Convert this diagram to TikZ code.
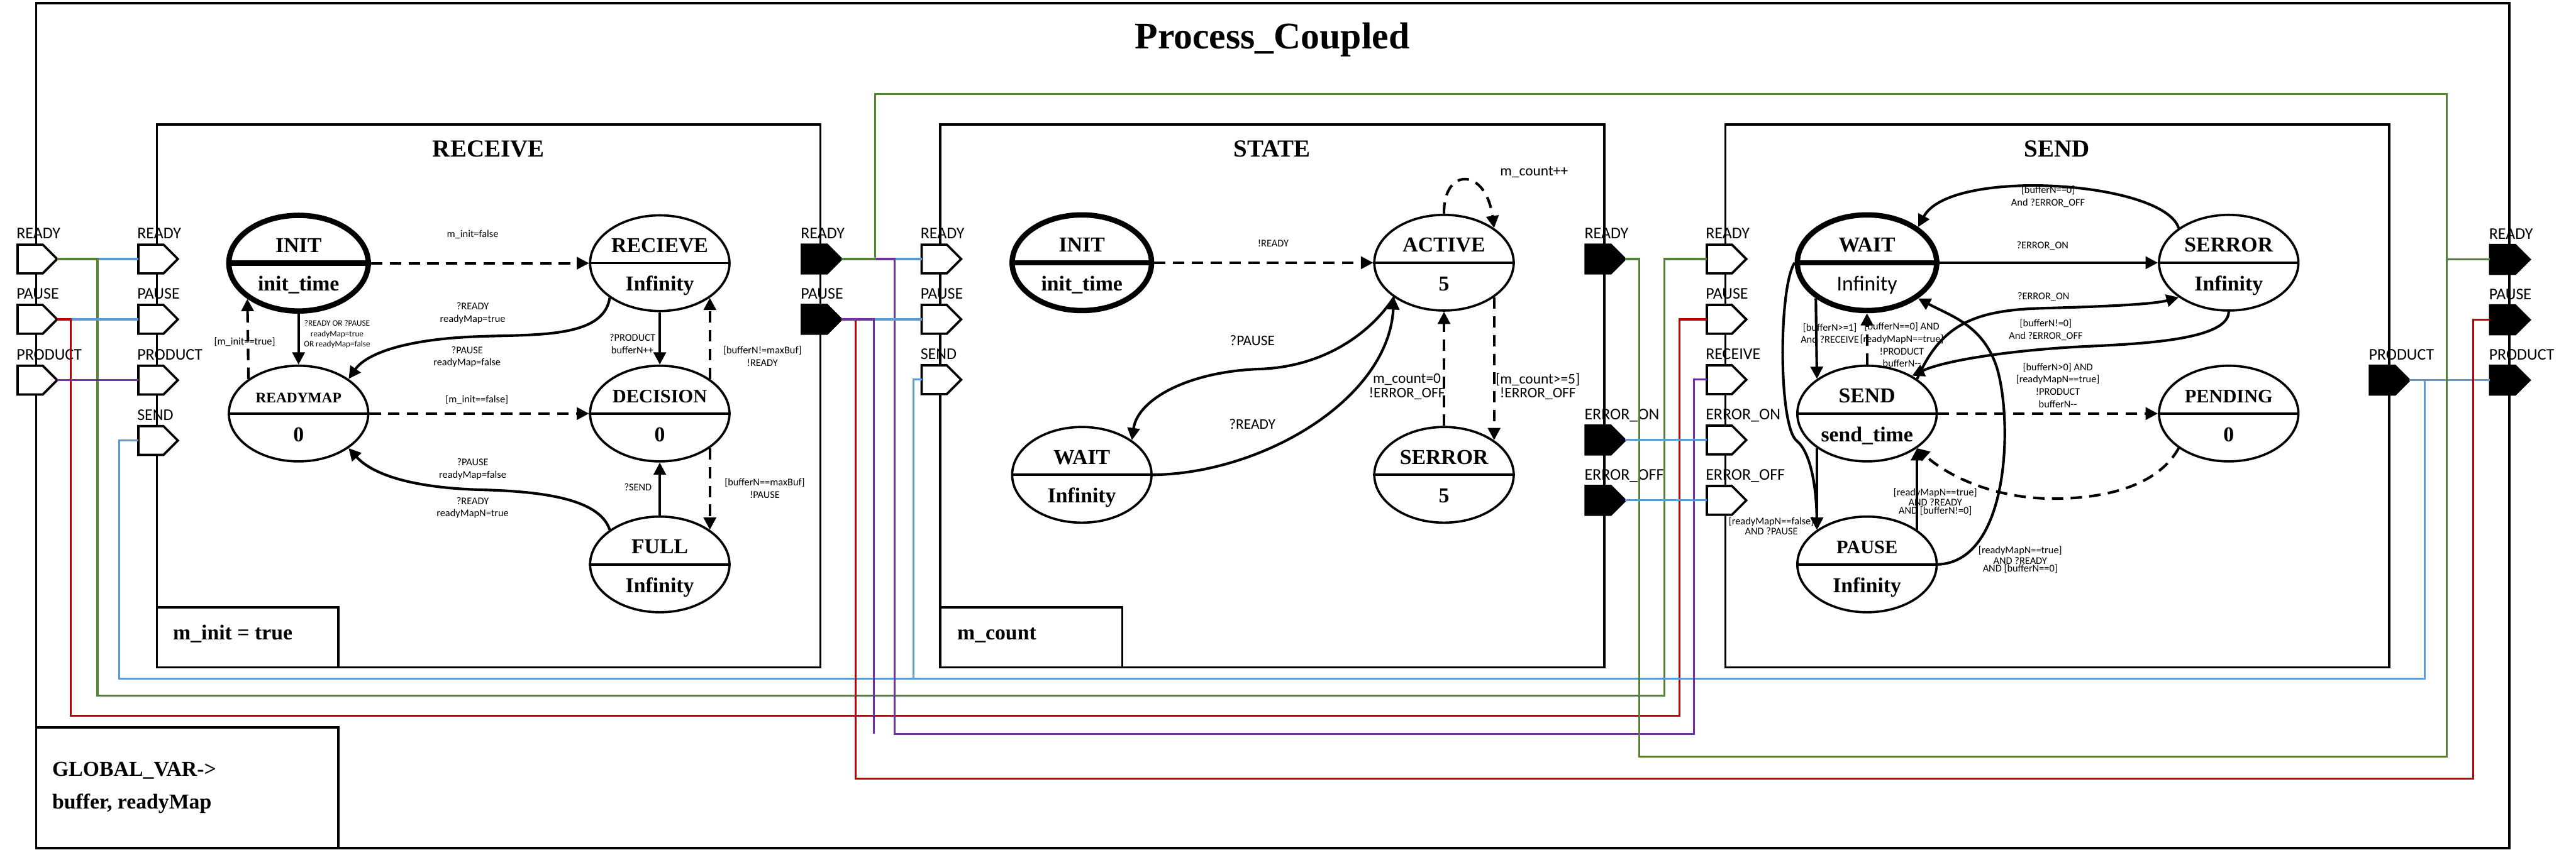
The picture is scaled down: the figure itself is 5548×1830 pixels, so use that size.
\documentclass[tikz,border=0pt]{standalone}
\usepackage{fontspec}
\setmainfont{Liberation Serif}
\newfontfamily\lblfont{Carlito}
\usetikzlibrary{shapes.geometric,shapes.symbols,arrows.meta}

\definecolor{wgreen}{HTML}{548235}
\definecolor{wblue}{HTML}{5B9BD5}
\definecolor{wred}{HTML}{C00000}
\definecolor{wpurple}{HTML}{7030A0}

% state: ellipse cut in two, name on top, time below
\newcommand{\stnode}[5][]{%
  \node[stnode,#1] (#2) at (#3) {};
  \draw[stline,#1] (#2.west) -- (#2.east);
  \node[sttxt] (#2n) at ([yshift=0.23cm]#2.center) {#4};
  \node[sttxt] (#2v) at ([yshift=-0.6cm]#2.center) {#5};
}

\begin{document}
\begin{tikzpicture}[x=0.01cm, y=-0.01cm,
  box/.style={line width=1.4pt},
  stnode/.style={draw, ellipse, minimum width=3cm, minimum height=2.06cm, inner sep=0pt, line width=1.4pt},
  stline/.style={line width=1.4pt},
  initst/.style={line width=3.3pt},
  sttxt/.style={font=\fontsize{13}{15}\selectfont\bfseries, inner sep=0pt, anchor=base},
  tr/.style={line width=1.6pt, -{Triangle[length=7.5pt,width=7.5pt]}},
  dtr/.style={tr, dash pattern=on 7pt off 4.5pt},
  lbl/.style={font=\lblfont\fontsize{6.3}{7.6}\selectfont, align=center, inner sep=0pt},
  lbls/.style={font=\lblfont\fontsize{5.1}{6.3}\selectfont, align=center, inner sep=0pt},
  lblt/.style={font=\lblfont\fontsize{6.3}{4.7}\selectfont, align=center, inner sep=0pt},
  lblb/.style={font=\lblfont\fontsize{9}{8.5}\selectfont, align=center, inner sep=0pt},
  portin/.style={signal, signal to=east, draw, line width=1.4pt, fill=white, minimum width=0.85cm, minimum height=0.62cm, inner sep=0pt, outer sep=0pt, anchor=west},
  portout/.style={portin, fill=black},
  plbl/.style={font=\lblfont\fontsize{10}{12}\selectfont, inner sep=0pt, anchor=base west, yshift=0.44cm, xshift=-0.03cm},
  btitle/.style={font=\fontsize{15}{18}\selectfont\bfseries, anchor=base},
  vtext/.style={font=\fontsize{13}{15}\selectfont\bfseries, anchor=base west, inner sep=0pt},
  gw/.style={draw=wgreen, line width=1.2pt},
  bw/.style={draw=wblue, line width=1.2pt},
  rw/.style={draw=wred, line width=1.2pt},
  pw/.style={draw=wpurple, line width=1.2pt}]

  \useasboundingbox (0,0) rectangle (5548,1830);

  % boxes
  \draw[box] (78,7) rectangle (5404,1827);
  \node[font=\fontsize{23}{27}\selectfont\bfseries, anchor=base] (tMain) at (2740,105) {Process\_Coupled};
  \draw[box] (78,1567) rectangle (729,1827);
  \node[vtext] (vGlob1) at (112,1672) {GLOBAL\_VAR->};
  \node[vtext] (vGlob2) at (112,1743) {buffer, readyMap};

  \draw[box] (338,268) rectangle (1767,1438);
  \draw[box] (338,1308) rectangle (729,1438);
  \node[btitle] (tRecv) at (1052,338) {RECEIVE};
  \node[vtext] (vInit) at (372,1378) {m\_init = true};

  \draw[box] (2025,268) rectangle (3455,1438);
  \draw[box] (2025,1308) rectangle (2417,1438);
  \node[btitle] (tState) at (2740,338) {STATE};
  \node[vtext] (vCount) at (2061,1378) {m\_count};

  \draw[box] (3716,268) rectangle (5146,1438);
  \node[btitle] (tSend) at (4430,338) {SEND};

  % ports
  \node[portin, label={[plbl]left:READY}] (oReady) at (38,558) {};
  \node[portin, label={[plbl]left:PAUSE}] (oPause) at (38,688) {};
  \node[portin, label={[plbl]left:PRODUCT}] (oProduct) at (38,819) {};

  \node[portin, label={[plbl]left:READY}] (rReadyIn) at (298,558) {};
  \node[portin, label={[plbl]left:PAUSE}] (rPauseIn) at (298,688) {};
  \node[portin, label={[plbl]left:PRODUCT}] (rProductIn) at (298,819) {};
  \node[portin, label={[plbl]left:SEND}] (rSendIn) at (298,949) {};
  \node[portout, label={[plbl]left:READY}] (rReadyOut) at (1727,558) {};
  \node[portout, label={[plbl]left:PAUSE}] (rPauseOut) at (1727,688) {};

  \node[portin, label={[plbl]left:READY}] (sReadyIn) at (1985,558) {};
  \node[portin, label={[plbl]left:PAUSE}] (sPauseIn) at (1985,688) {};
  \node[portin, label={[plbl]left:SEND}] (sSendIn) at (1985,818) {};
  \node[portout, label={[plbl]left:READY}] (sReadyOut) at (3415,558) {};
  \node[portout, label={[plbl]left:ERROR\_ON}] (sErrOnOut) at (3415,948) {};
  \node[portout, label={[plbl]left:ERROR\_OFF}] (sErrOffOut) at (3415,1078) {};

  \node[portin, label={[plbl]left:READY}] (dReadyIn) at (3676,558) {};
  \node[portin, label={[plbl]left:PAUSE}] (dPauseIn) at (3676,688) {};
  \node[portin, label={[plbl]left:RECEIVE}] (dReceiveIn) at (3676,818) {};
  \node[portin, label={[plbl]left:ERROR\_ON}] (dErrOnIn) at (3676,948) {};
  \node[portin, label={[plbl]left:ERROR\_OFF}] (dErrOffIn) at (3676,1078) {};
  \node[portout, label={[plbl]left:PRODUCT}] (dProductOut) at (5104,819) {};

  \node[portout, label={[plbl]left:READY}] (oReadyOut) at (5363,559) {};
  \node[portout, label={[plbl]left:PAUSE}] (oPauseOut) at (5363,689) {};
  \node[portout, label={[plbl]left:PRODUCT}] (oProductOut) at (5363,819) {};

  % couplings
  \draw[bw] (oReady.east) -- (rReadyIn.west);
  \draw[gw] (oReady.east) -| (210,1499) -| (3585,558) -- (dReadyIn.west);
  \draw[bw] (oPause.east) -- (rPauseIn.west);
  \draw[rw] (oPause.east) -| (152,1542) -| (3617,688) -- (dPauseIn.west);
  \draw[pw] (oProduct.east) -- (rProductIn.west);
  \draw[bw] (rSendIn.west) -| (257,1462) -| (5222,819);
  \draw[bw] (sSendIn.west) -| (1967,1462);
  \draw[bw] (dProductOut.east) -- (oProductOut.west);
  \draw[bw] (rReadyOut.east) -- (sReadyIn.west);
  \draw[pw] (rReadyOut.east) -| (1927,1581) -| (3648,818) -- (dReceiveIn.west);
  \draw[gw] (rReadyOut.east) -| (1885,202) -| (5270,1630) -| (3530,558) -- (sReadyOut.east);
  \draw[gw] (oReadyOut.west) -| (5270,202);
  \draw[bw] (rPauseOut.east) -- (sPauseIn.west);
  \draw[rw] (rPauseOut.east) -| (1843,1677) -| (5327,689) -- (oPauseOut.west);
  \draw[pw] (rPauseOut.east) -| (1882,1581);
  \draw[bw] (sErrOnOut.east) -- (dErrOnIn.west);
  \draw[bw] (sErrOffOut.east) -- (dErrOffIn.west);

  % RECEIVE
  \stnode[initst]{rInit}{643,567}{INIT}{init\_time}
  \stnode{rRecv}{1421,567}{RECIEVE}{Infinity}
  \stnode{rMap}{643,891}{{\fontsize{9}{11}\selectfont READYMAP}}{0}
  \stnode{rDec}{1421,891}{{\fontsize{11.7}{13}\selectfont DECISION}}{0}
  \stnode{rFull}{1421,1216}{FULL}{Infinity}

  \draw[dtr] (rInit.east) -- (rRecv.west);
  \draw[tr] (rInit.south) -- (rMap.north);
  \draw[dtr] (rMap.north west) -- (rInit.south west);
  \draw[tr] (rRecv.south west) .. controls (1300,730) and (1150,720) .. (1030,725) .. controls (880,730) and (790,760) .. (rMap.north east);
  \draw[dtr] (rMap.east) -- (rDec.west);
  \draw[tr] (rRecv.south) -- (rDec.north);
  \draw[dtr] (rDec.north east) -- (rRecv.south east);
  \draw[dtr] (rDec.south east) -- (rFull.north east);
  \draw[tr] (rFull.north) -- (rDec.south);
  \draw[tr] (rFull.north west) .. controls (1290,1070) and (1150,1058) .. (1030,1055) .. controls (880,1050) and (800,1020) .. (rMap.south east);

  \node[lbl] (lr1) at (1018,505) {m\_init=false};
  \node[lbls] (lr2) at (726,720) {?READY OR ?PAUSE\\readyMap=true\\OR readyMap=false};
  \node[lbl] (lr3) at (527,737) {[m\_init==true]};
  \node[lbl] (lr4) at (1018,675) {?READY\\readyMap=true};
  \node[lbl] (lr5) at (1006,769) {?PAUSE\\readyMap=false};
  \node[lbl] (lr6) at (1027,861) {[m\_init==false]};
  \node[lbl] (lr7) at (1362,741) {?PRODUCT\\bufferN++};
  \node[lbl] (lr8) at (1642,768) {[bufferN!=maxBuf]\\!READY};
  \node[lbl] (lr9) at (1647,1052) {[bufferN==maxBuf]\\!PAUSE};
  \node[lbl] (lr10) at (1374,1050) {?SEND};
  \node[lbl] (lr11) at (1018,1011) {?PAUSE\\readyMap=false};
  \node[lbl] (lr12) at (1018,1094) {?READY\\readyMapN=true};

  % STATE
  \stnode[initst]{sInit}{2330,566}{INIT}{init\_time}
  \stnode{sActive}{3110,566}{ACTIVE}{5}
  \stnode{sWait}{2330,1023}{WAIT}{Infinity}
  \stnode{sErr}{3110,1023}{SERROR}{5}

  \draw[dtr] (sInit.east) -- (sActive.west);
  \draw[dtr] (sActive.north) .. controls (3108,360) and (3200,360) .. (sActive.north east);
  \draw[tr] (sActive.south west) .. controls (2950,720) and (2850,790) .. (2714,795) .. controls (2560,800) and (2450,860) .. (sWait.north east);
  \draw[tr] (sWait.east) .. controls (2720,1020) and (2990,860) .. (sActive.south west);
  \draw[dtr] (sErr.north) -- (sActive.south);
  \draw[dtr] (sActive.south east) -- (sErr.north east);

  \node[lbl] (ls1) at (2742,524) {!READY};
  \node[lblb] (ls2) at (3304,371) {m\_count++};
  \node[lblb] (ls3) at (2697,733) {?PAUSE};
  \node[lblb] (ls4) at (2697,914) {?READY};
  \node[lblb] (ls5) at (3030,833) {m\_count=0\\!ERROR\_OFF};
  \node[lblb] (ls6) at (3312,833) {[m\_count>=5]\\!ERROR\_OFF};

  % SEND
  \stnode[initst]{dWait}{4021,566}{WAIT}{{\mdseries\lblfont Infinity}}
  \stnode{dErr}{4800,566}{SERROR}{Infinity}
  \stnode{dSend}{4021,891}{SEND}{send\_time}
  \stnode{dPend}{4800,891}{{\fontsize{11.7}{13}\selectfont PENDING}}{0}
  \stnode{dPause}{4021,1216}{{\fontsize{11.7}{13}\selectfont PAUSE}}{Infinity}

  \draw[tr] (dErr.north west) .. controls (4660,390) and (4200,360) .. (dWait.north east);
  \draw[tr] (dWait.east) -- (dErr.west);
  \draw[tr] (dSend.north east) .. controls (4180,700) and (4250,668) .. (4400,664) .. controls (4550,660) and (4640,655) .. (dErr.south west);
  \draw[tr] (dErr.south) .. controls (4800,740) and (4560,742) .. (4460,748) .. controls (4300,758) and (4180,780) .. (dSend.40);
  \draw[dtr] (dSend.east) -- (dPend.west);
  \draw[dtr] (dPend.south west) .. controls (4640,1060) and (4500,1076) .. (4410,1074) .. controls (4300,1072) and (4200,1030) .. (dSend.south east);
  \draw[tr] (dWait.south west) -- (dSend.north west);
  \draw[dtr] (dSend.north) -- (dWait.south);
  \draw[tr] (dSend.south west) -- (dPause.north west);
  \draw[tr] (dPause.north east) -- (dSend.south east);
  \draw[tr] (dPause.east) .. controls (4330,1210) and (4335,900) .. (4300,790) .. controls (4270,700) and (4200,680) .. (dWait.south east);
  \draw[tr] (dWait.west) .. controls (3830,620) and (3830,920) .. (3870,950) .. controls (3900,975) and (3912,1050) .. (dPause.north west);

  \node[lbl] (ld1) at (4411,424) {[bufferN==0]\\And ?ERROR\_OFF};
  \node[lbl] (ld2) at (4399,529) {?ERROR\_ON};
  \node[lbl] (ld3) at (4401,640) {?ERROR\_ON};
  \node[lbl] (ld4) at (4406,711) {[bufferN!=0]\\And ?ERROR\_OFF};
  \node[lbl] (ld5) at (4432,830) {[bufferN>0] AND\\{}[readyMapN==true]\\!PRODUCT\\bufferN-{}-};
  \node[lbl] (ld6) at (3941,718) {[bufferN>=1]\\And ?RECEIVE};
  \node[lbl] (ld7) at (4096,743) {[bufferN==0] AND\\{}[readyMapN==true]\\!PRODUCT\\bufferN-{}-};
  \node[lblt] (ld8) at (4168,1081) {[readyMapN==true]\\AND ?READY\\AND [bufferN!=0]};
  \node[lblt] (ld9) at (4351,1206) {[readyMapN==true]\\AND ?READY\\AND [bufferN==0]};
  \node[lblt] (ld10) at (3815,1133) {[readyMapN==false]\\AND ?PAUSE};
\end{tikzpicture}
\end{document}
